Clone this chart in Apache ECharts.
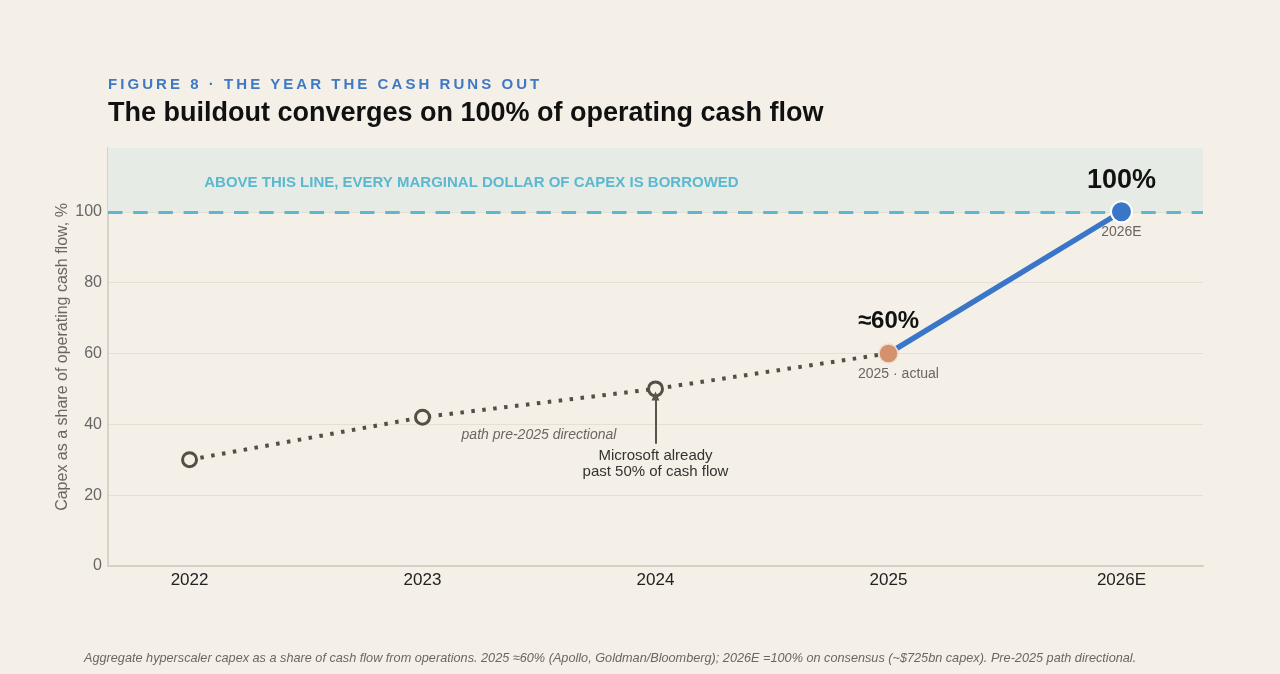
<!DOCTYPE html>
<html>
<head>
<meta charset="utf-8">
<script src="https://cdn.jsdelivr.net/npm/echarts@6/dist/echarts.min.js"></script>
<style>
  html, body { margin: 0; padding: 0; background: #f4f0e8; }
  #chart { width: 1280px; height: 674px; }
  .kicker {
    position: absolute; left: 108px; top: 75px; z-index: 5;
    font-family: "Liberation Sans", Arial, sans-serif;
    font-size: 15px; font-weight: bold; letter-spacing: 3.05px; color: #3f78c4;
  }
</style>
</head>
<body>
<div class="kicker">FIGURE 8 · THE YEAR THE CASH RUNS OUT</div>
<div id="chart"></div>
<script>
// data
var years = ['2022', '2023', '2024', '2025', '2026E'];
var pathShare = [30, 42, 50, 60];      // pre-2025 directional path + 2025 actual
var forecastShare = [60, 100];         // 2025 actual -> 2026E consensus
var yTicks = [0, 20, 40, 60, 80, 100];
var threshold = 100;

var FONT = '"Liberation Sans", Arial, sans-serif';
var BG = '#f4f0e8';

var myChart = echarts.init(document.getElementById('chart'));

var pathData = pathShare.map(function (v, i) {
  // the 2025 point is drawn by its own scatter series
  return i === 3 ? { value: [i, v], symbol: 'none' } : [i, v];
});
var forecastData = forecastShare.map(function (v, i) { return [i + 3, v]; });

var option = {
  backgroundColor: BG,
  animation: false,
  textStyle: { fontFamily: FONT },
  title: [{
    text: 'The buildout converges on 100% of operating cash flow',
    left: 108, top: 100, padding: 0,
    textStyle: { fontSize: 27, fontWeight: 'bold', color: '#111', fontFamily: FONT }
  }, {
    text: 'Aggregate hyperscaler capex as a share of cash flow from operations. 2025 ≈60% (Apollo, Goldman/Bloomberg); 2026E =100% on consensus (~$725bn capex). Pre-2025 path directional.',
    left: 84, top: 652, padding: 0,
    textStyle: { fontSize: 12.7, fontStyle: 'italic', fontWeight: 'normal', color: '#6b6760', fontFamily: FONT }
  }],
  grid: { left: 108, right: 77, top: 148, bottom: 108 },
  xAxis: {
    type: 'value',
    min: -0.35, max: 4.35,
    axisLine: { show: true, lineStyle: { color: '#d6d0c4', width: 2 } },
    axisTick: { show: false },
    splitLine: { show: false },
    axisLabel: {
      customValues: [0, 1, 2, 3, 4],
      formatter: function (v) { return years[Math.round(v)]; },
      fontSize: 17, color: '#222', margin: 6, fontFamily: FONT
    }
  },
  yAxis: {
    type: 'value',
    min: 0, max: 118, interval: 20,
    name: 'Capex as a share of operating cash flow, %',
    nameLocation: 'middle', nameGap: 37, nameMoveOverlap: false,
    nameTextStyle: { fontSize: 16, color: '#6b6760', fontFamily: FONT },
    axisLine: { show: true, onZero: false, lineStyle: { color: '#cfc9bc', width: 1.5 } },
    axisTick: { show: false },
    splitLine: { lineStyle: { color: '#e5e0d6', width: 1 } },
    axisLabel: {
      formatter: function (v) { return yTicks.indexOf(v) >= 0 ? String(v) : ''; },
      fontSize: 16, color: '#666', margin: 6, padding: [4, 0, 0, 0], fontFamily: FONT
    }
  },
  series: [{
    name: 'path',
    type: 'line',
    data: pathData,
    z: 3,
    symbol: 'circle',
    symbolSize: 14,
    lineStyle: { color: '#544f45', width: 4, type: [3.5, 7.5] },
    itemStyle: { color: BG, borderColor: '#544f45', borderWidth: 3 },
    markArea: {
      silent: true,
      itemStyle: { color: '#e6ebe5' },
      data: [[{ yAxis: threshold }, { yAxis: 118 }]]
    },
    markLine: {
      silent: true,
      symbol: 'none',
      label: { show: false },
      data: [
        { yAxis: threshold, lineStyle: { color: '#5bb8d0', width: 3, type: [14.5, 10.7] } },
        [
          { coord: [2, 34.5], symbol: 'none' },
          { coord: [2, 48.0], symbol: 'triangle', symbolSize: [8, 9] }
        ]
      ],
      lineStyle: { color: '#5a5548', width: 2, type: 'solid' }
    }
  }, {
    name: 'forecast',
    type: 'line',
    data: forecastData,
    z: 4,
    symbol: 'none',
    lineStyle: { color: '#3a76c8', width: 5.5 }
  }, {
    name: '2025',
    type: 'scatter',
    z: 6,
    data: [[3, pathShare[3]]],
    symbolSize: 19,
    itemStyle: { color: '#d4916e', borderColor: '#f1dccd', borderWidth: 1.5, opacity: 1 }
  }, {
    name: '2026E',
    type: 'scatter',
    z: 6,
    data: [forecastData[1]],
    symbolSize: 21,
    itemStyle: { color: '#3a76c8', borderColor: '#ffffff', borderWidth: 2, opacity: 1 }
  }]
};

myChart.setOption(option);

// annotations positioned from data coordinates
function px(x, y) { return myChart.convertToPixel({ gridIndex: 0 }, [x, y]); }
function txt(p, dx, dy, text, style) {
  return {
    type: 'text', x: p[0] + dx, y: p[1] + dy, z: 10,
    style: Object.assign({ text: text, fontFamily: FONT, align: 'center', verticalAlign: 'middle' }, style)
  };
}
var pBand = px(1.21, 108.2);
var p2026 = px(4, 100);
var p2025 = px(3, 60);
var p2024 = px(2, 50);
var pPath = px(1.5, 37);

myChart.setOption({
  graphic: [
    txt(pBand, 0, 0, 'ABOVE THIS LINE, EVERY MARGINAL DOLLAR OF CAPEX IS BORROWED',
      { fontSize: 15, fontWeight: 'bold', fill: '#5bb8d0' }),
    txt(p2026, 0, -31, '100%', { fontSize: 27, fontWeight: 'bold', fill: '#111' }),
    txt(p2026, 0, 20, '2026E', { fontSize: 14, fill: '#6b6760' }),
    txt(p2025, 0, -32, '≈60%', { fontSize: 24, fontWeight: 'bold', fill: '#111' }),
    txt(p2025, 10, 21, '2025 · actual', { fontSize: 14, fill: '#6b6760' }),
    txt(pPath, 0, 0, 'path pre-2025 directional',
      { fontSize: 14, fontStyle: 'italic', fill: '#6b6760' }),
    txt(p2024, 0, 67, 'Microsoft already', { fontSize: 15, fill: '#333' }),
    txt(p2024, 0, 83, 'past 50% of cash flow', { fontSize: 15, fill: '#333' })
  ]
});
</script>
</body>
</html>
